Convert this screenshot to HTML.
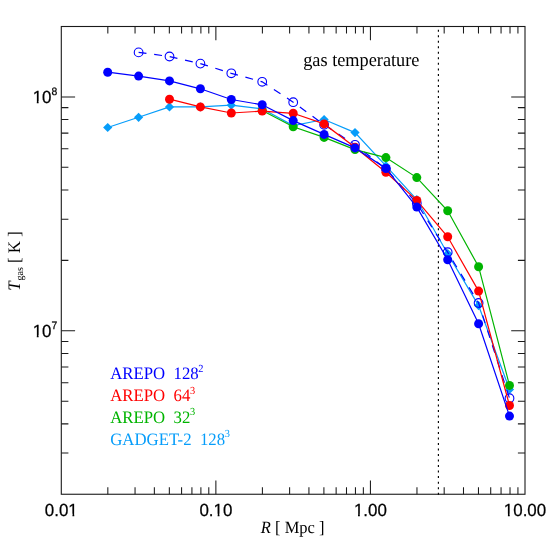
<!DOCTYPE html>
<html><head><meta charset="utf-8"><title>gas temperature</title>
<style>
html,body{margin:0;padding:0;background:#fff;}
body{width:550px;height:550px;overflow:hidden;font-family:"Liberation Sans",sans-serif;}
svg{display:block;will-change:transform;}
text{text-rendering:geometricPrecision;}
</style></head>
<body>
<svg width="550" height="550" viewBox="0 0 550 550">
<rect width="550" height="550" fill="#fff"/>
<rect x="61.3" y="26.5" width="463.70" height="467.75" fill="none" stroke="#1a1a1a" stroke-width="1.1"/>
<path d="M107.83 494.25v-7.1M107.83 26.5v7.1M135.05 494.25v-7.1M135.05 26.5v7.1M154.36 494.25v-7.1M154.36 26.5v7.1M169.34 494.25v-7.1M169.34 26.5v7.1M181.58 494.25v-7.1M181.58 26.5v7.1M191.92 494.25v-7.1M191.92 26.5v7.1M200.89 494.25v-7.1M200.89 26.5v7.1M208.79 494.25v-7.1M208.79 26.5v7.1M215.87 494.25v-13.8M215.87 26.5v13.8M262.40 494.25v-7.1M262.40 26.5v7.1M289.61 494.25v-7.1M289.61 26.5v7.1M308.93 494.25v-7.1M308.93 26.5v7.1M323.90 494.25v-7.1M323.90 26.5v7.1M336.14 494.25v-7.1M336.14 26.5v7.1M346.49 494.25v-7.1M346.49 26.5v7.1M355.45 494.25v-7.1M355.45 26.5v7.1M363.36 494.25v-7.1M363.36 26.5v7.1M370.43 494.25v-13.8M370.43 26.5v13.8M416.96 494.25v-7.1M416.96 26.5v7.1M444.18 494.25v-7.1M444.18 26.5v7.1M463.49 494.25v-7.1M463.49 26.5v7.1M478.47 494.25v-7.1M478.47 26.5v7.1M490.71 494.25v-7.1M490.71 26.5v7.1M501.06 494.25v-7.1M501.06 26.5v7.1M510.02 494.25v-7.1M510.02 26.5v7.1M517.93 494.25v-7.1M517.93 26.5v7.1M61.3 453.07h7.1M525.0 453.07h-7.1M61.3 423.85h7.1M525.0 423.85h-7.1M61.3 401.18h7.1M525.0 401.18h-7.1M61.3 382.66h7.1M525.0 382.66h-7.1M61.3 367.01h7.1M525.0 367.01h-7.1M61.3 353.44h7.1M525.0 353.44h-7.1M61.3 341.48h7.1M525.0 341.48h-7.1M61.3 330.78h13.8M525.0 330.78h-13.8M61.3 260.38h7.1M525.0 260.38h-7.1M61.3 219.19h7.1M525.0 219.19h-7.1M61.3 189.97h7.1M525.0 189.97h-7.1M61.3 167.31h7.1M525.0 167.31h-7.1M61.3 148.79h7.1M525.0 148.79h-7.1M61.3 133.13h7.1M525.0 133.13h-7.1M61.3 119.57h7.1M525.0 119.57h-7.1M61.3 107.60h7.1M525.0 107.60h-7.1M61.3 96.90h13.8M525.0 96.90h-13.8" stroke="#1a1a1a" stroke-width="1.05" fill="none"/>
<line x1="438.4" y1="494.65" x2="438.4" y2="26.5" stroke="#000" stroke-width="1.15" stroke-dasharray="2 3.51"/>
<path d="M107.7 127.5 L138.6 117.3 L169.5 106.9 L200.4 106.9 L231.3 105.2 L262.2 108.8 L293.2 125.6 L324.1 119.5 L355.0 132.6 L385.9 165.8 L416.8 199.5 L447.7 253.7 L478.6 305.6 L509.5 389.5" fill="none" stroke="#069dfa" stroke-width="1.2"/>
<path d="M107.7 122.9l4.6 4.6l-4.6 4.6l-4.6 -4.6z" fill="#069dfa"/>
<path d="M138.6 112.7l4.6 4.6l-4.6 4.6l-4.6 -4.6z" fill="#069dfa"/>
<path d="M169.5 102.3l4.6 4.6l-4.6 4.6l-4.6 -4.6z" fill="#069dfa"/>
<path d="M200.4 102.3l4.6 4.6l-4.6 4.6l-4.6 -4.6z" fill="#069dfa"/>
<path d="M231.3 100.6l4.6 4.6l-4.6 4.6l-4.6 -4.6z" fill="#069dfa"/>
<path d="M262.2 104.2l4.6 4.6l-4.6 4.6l-4.6 -4.6z" fill="#069dfa"/>
<path d="M293.2 121.0l4.6 4.6l-4.6 4.6l-4.6 -4.6z" fill="#069dfa"/>
<path d="M324.1 114.9l4.6 4.6l-4.6 4.6l-4.6 -4.6z" fill="#069dfa"/>
<path d="M355.0 128.0l4.6 4.6l-4.6 4.6l-4.6 -4.6z" fill="#069dfa"/>
<path d="M385.9 161.2l4.6 4.6l-4.6 4.6l-4.6 -4.6z" fill="#069dfa"/>
<path d="M416.8 194.9l4.6 4.6l-4.6 4.6l-4.6 -4.6z" fill="#069dfa"/>
<path d="M447.7 249.1l4.6 4.6l-4.6 4.6l-4.6 -4.6z" fill="#069dfa"/>
<path d="M478.6 301.0l4.6 4.6l-4.6 4.6l-4.6 -4.6z" fill="#069dfa"/>
<path d="M509.5 384.9l4.6 4.6l-4.6 4.6l-4.6 -4.6z" fill="#069dfa"/>
<path d="M138.6 52.4 L169.5 56.5 L200.4 63.6 L231.3 73.3 L262.2 81.8 L293.2 102.2 L324.1 124.8 L355.0 144.8 L385.9 168.8 L416.8 203.3 L447.7 252.2 L478.6 303.0 L509.5 398.2" fill="none" stroke="#0000ff" stroke-width="1.2" stroke-dasharray="7.9 7.8"/>
<circle cx="138.6" cy="52.4" r="4.35" fill="none" stroke="#0000ff" stroke-width="1.1"/>
<circle cx="169.5" cy="56.5" r="4.35" fill="none" stroke="#0000ff" stroke-width="1.1"/>
<circle cx="200.4" cy="63.6" r="4.35" fill="none" stroke="#0000ff" stroke-width="1.1"/>
<circle cx="231.3" cy="73.3" r="4.35" fill="none" stroke="#0000ff" stroke-width="1.1"/>
<circle cx="262.2" cy="81.8" r="4.35" fill="none" stroke="#0000ff" stroke-width="1.1"/>
<circle cx="293.2" cy="102.2" r="4.35" fill="none" stroke="#0000ff" stroke-width="1.1"/>
<circle cx="324.1" cy="124.8" r="4.35" fill="none" stroke="#0000ff" stroke-width="1.1"/>
<circle cx="355.0" cy="144.8" r="4.35" fill="none" stroke="#0000ff" stroke-width="1.1"/>
<circle cx="385.9" cy="168.8" r="4.35" fill="none" stroke="#0000ff" stroke-width="1.1"/>
<circle cx="416.8" cy="203.3" r="4.35" fill="none" stroke="#0000ff" stroke-width="1.1"/>
<circle cx="447.7" cy="252.2" r="4.35" fill="none" stroke="#0000ff" stroke-width="1.1"/>
<circle cx="478.6" cy="303.0" r="4.35" fill="none" stroke="#0000ff" stroke-width="1.1"/>
<circle cx="509.5" cy="398.2" r="4.35" fill="none" stroke="#0000ff" stroke-width="1.1"/>
<path d="M262.2 110.5 L293.2 126.8 L324.1 137.4 L355.0 149.6 L385.9 157.6 L416.8 177.6 L447.7 210.8 L478.6 266.7 L509.5 385.4" fill="none" stroke="#00b400" stroke-width="1.2"/>
<circle cx="262.2" cy="110.5" r="4.5" fill="#00b400"/>
<circle cx="293.2" cy="126.8" r="4.5" fill="#00b400"/>
<circle cx="324.1" cy="137.4" r="4.5" fill="#00b400"/>
<circle cx="355.0" cy="149.6" r="4.5" fill="#00b400"/>
<circle cx="385.9" cy="157.6" r="4.5" fill="#00b400"/>
<circle cx="416.8" cy="177.6" r="4.5" fill="#00b400"/>
<circle cx="447.7" cy="210.8" r="4.5" fill="#00b400"/>
<circle cx="478.6" cy="266.7" r="4.5" fill="#00b400"/>
<circle cx="509.5" cy="385.4" r="4.5" fill="#00b400"/>
<path d="M169.5 99.2 L200.4 106.9 L231.3 113.0 L262.2 111.1 L293.2 113.3 L324.1 123.9 L355.0 147.3 L385.9 172.2 L416.8 200.4 L447.7 236.8 L478.6 291.1 L509.5 405.5" fill="none" stroke="#ff0000" stroke-width="1.2"/>
<circle cx="169.5" cy="99.2" r="4.5" fill="#ff0000"/>
<circle cx="200.4" cy="106.9" r="4.5" fill="#ff0000"/>
<circle cx="231.3" cy="113.0" r="4.5" fill="#ff0000"/>
<circle cx="262.2" cy="111.1" r="4.5" fill="#ff0000"/>
<circle cx="293.2" cy="113.3" r="4.5" fill="#ff0000"/>
<circle cx="324.1" cy="123.9" r="4.5" fill="#ff0000"/>
<circle cx="355.0" cy="147.3" r="4.5" fill="#ff0000"/>
<circle cx="385.9" cy="172.2" r="4.5" fill="#ff0000"/>
<circle cx="416.8" cy="200.4" r="4.5" fill="#ff0000"/>
<circle cx="447.7" cy="236.8" r="4.5" fill="#ff0000"/>
<circle cx="478.6" cy="291.1" r="4.5" fill="#ff0000"/>
<circle cx="509.5" cy="405.5" r="4.5" fill="#ff0000"/>
<path d="M107.7 72.2 L138.6 76.1 L169.5 80.9 L200.4 88.8 L231.3 99.5 L262.2 104.8 L293.2 120.6 L324.1 134.4 L355.0 147.9 L385.9 168.5 L416.8 207.1 L447.7 259.7 L478.6 323.8 L509.5 416.1" fill="none" stroke="#0000ff" stroke-width="1.2"/>
<circle cx="107.7" cy="72.2" r="4.5" fill="#0000ff"/>
<circle cx="138.6" cy="76.1" r="4.5" fill="#0000ff"/>
<circle cx="169.5" cy="80.9" r="4.5" fill="#0000ff"/>
<circle cx="200.4" cy="88.8" r="4.5" fill="#0000ff"/>
<circle cx="231.3" cy="99.5" r="4.5" fill="#0000ff"/>
<circle cx="262.2" cy="104.8" r="4.5" fill="#0000ff"/>
<circle cx="293.2" cy="120.6" r="4.5" fill="#0000ff"/>
<circle cx="324.1" cy="134.4" r="4.5" fill="#0000ff"/>
<circle cx="355.0" cy="147.9" r="4.5" fill="#0000ff"/>
<circle cx="385.9" cy="168.5" r="4.5" fill="#0000ff"/>
<circle cx="416.8" cy="207.1" r="4.5" fill="#0000ff"/>
<circle cx="447.7" cy="259.7" r="4.5" fill="#0000ff"/>
<circle cx="478.6" cy="323.8" r="4.5" fill="#0000ff"/>
<circle cx="509.5" cy="416.1" r="4.5" fill="#0000ff"/>
<text transform="translate(303.2 65.8) scale(0.962 1)" font-family="Liberation Serif, serif" font-size="19.0" fill="#000" xml:space="preserve">gas temperature</text>
<text transform="translate(110.2 379.1) scale(0.962 1)" font-family="Liberation Serif, serif" font-size="17.45" fill="#0000ff" xml:space="preserve">AREPO &#160;128<tspan font-size="10.8" dx="-0.4" dy="-7.4">2</tspan></text>
<text transform="translate(110.2 401.0) scale(0.962 1)" font-family="Liberation Serif, serif" font-size="17.45" fill="#ff0000" xml:space="preserve">AREPO &#160;64<tspan font-size="10.8" dx="-0.4" dy="-7.4">3</tspan></text>
<text transform="translate(110.2 422.8) scale(0.962 1)" font-family="Liberation Serif, serif" font-size="17.45" fill="#00b400" xml:space="preserve">AREPO &#160;32<tspan font-size="10.8" dx="-0.4" dy="-7.4">3</tspan></text>
<text transform="translate(110.2 444.7) scale(0.962 1)" font-family="Liberation Serif, serif" font-size="17.45" fill="#069dfa" xml:space="preserve">GADGET-2 &#160;128<tspan font-size="10.8" dx="-0.4" dy="-7.4">3</tspan></text>
<text transform="translate(61.3 515.5) scale(0.962 1)" font-family="Liberation Sans, sans-serif" font-size="17.6" fill="#000" stroke="#000" stroke-width="0.25" text-anchor="middle" xml:space="preserve">0.01</text>
<path d="M68.35 513.84H72.47V517.10H68.35zM74.26 513.84H78.25V517.10H74.26z" fill="#fff"/>
<text transform="translate(215.9 515.5) scale(0.962 1)" font-family="Liberation Sans, sans-serif" font-size="17.6" fill="#000" stroke="#000" stroke-width="0.25" text-anchor="middle" xml:space="preserve">0.10</text>
<path d="M213.53 513.84H217.65V517.10H213.53zM219.45 513.84H223.43V517.10H219.45z" fill="#fff"/>
<text transform="translate(370.4 515.5) scale(0.962 1)" font-family="Liberation Sans, sans-serif" font-size="17.6" fill="#000" stroke="#000" stroke-width="0.25" text-anchor="middle" xml:space="preserve">1.00</text>
<path d="M353.91 513.84H358.03V517.10H353.91zM359.83 513.84H363.81V517.10H359.83z" fill="#fff"/>
<text transform="translate(525.0 515.5) scale(0.962 1)" font-family="Liberation Sans, sans-serif" font-size="17.6" fill="#000" stroke="#000" stroke-width="0.25" text-anchor="middle" xml:space="preserve">10.00</text>
<path d="M503.81 513.84H507.92V517.10H503.81zM509.72 513.84H513.70V517.10H509.72z" fill="#fff"/>
<text transform="translate(57.3 102.7) scale(0.962 1)" font-family="Liberation Sans, sans-serif" font-size="17.6" fill="#000" stroke="#000" stroke-width="0.25" text-anchor="end" xml:space="preserve">10<tspan font-size="10.8" dy="-7.7">8</tspan></text>
<path d="M32.68 101.04H36.80V104.30H32.68zM38.59 101.04H42.58V104.30H38.59z" fill="#fff"/>
<text transform="translate(57.3 336.6) scale(0.962 1)" font-family="Liberation Sans, sans-serif" font-size="17.6" fill="#000" stroke="#000" stroke-width="0.25" text-anchor="end" xml:space="preserve">10<tspan font-size="10.8" dy="-7.7">7</tspan></text>
<path d="M32.68 334.94H36.80V338.20H32.68zM38.59 334.94H42.58V338.20H38.59z" fill="#fff"/>
<text transform="translate(292.7 533.2) scale(0.962 1)" font-family="Liberation Serif, serif" font-size="17.15" fill="#000" text-anchor="middle" xml:space="preserve"><tspan font-style="italic">R</tspan> [ Mpc ]</text>
<text transform="translate(19.6 260.9) rotate(-90) scale(0.962 1)" font-family="Liberation Serif, serif" font-size="17.55" fill="#000" text-anchor="middle" xml:space="preserve"><tspan font-style="italic">T</tspan><tspan font-size="10.4" dx="0.8" dy="3.6">gas</tspan><tspan dy="-3.6"> [ K ]</tspan></text>
</svg>
</body></html>
